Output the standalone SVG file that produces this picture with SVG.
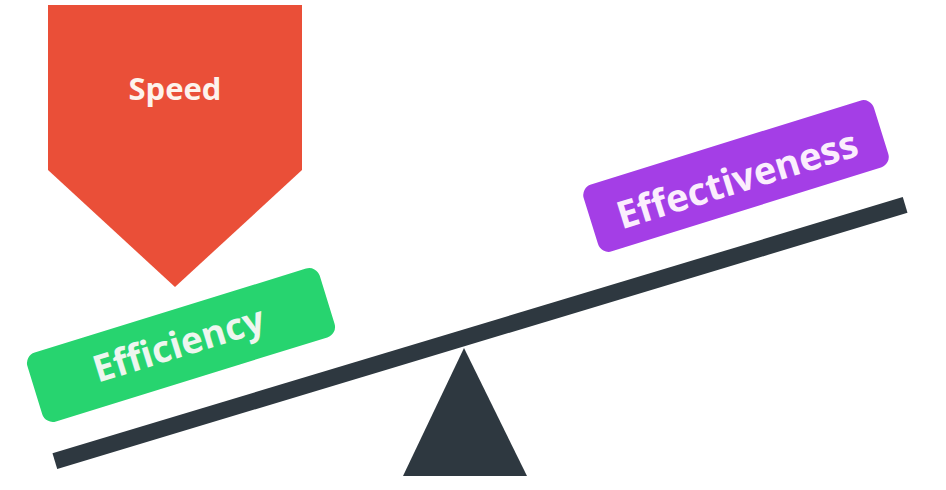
<svg xmlns="http://www.w3.org/2000/svg" width="946" height="490" viewBox="0 0 946 490">
<style>
.lbl{font-family:"Open Sans","Liberation Sans",sans-serif;font-weight:700;text-anchor:middle;dominant-baseline:central}
.dark{fill:#2e3840}
</style>
<rect width="946" height="490" fill="#ffffff"/>
<g id="speed">
<polygon points="48,5 302,5 302,170 175,287 48,170" fill="#ea4f38"/>
<text class="lbl" x="175" y="88" font-size="31" fill="#fdf3ec">Speed</text>
</g>
<g id="seesaw">
<g transform="translate(480,333) rotate(-16.76)">
<rect class="dark" x="-444" y="-8.2" width="888" height="16.4"/>
</g>
<polygon class="dark" points="464,348 527,476 403,476"/>
</g>
<g id="efficiency" transform="translate(181,345) rotate(-17.2)">
<rect x="-153" y="-36" width="306" height="72" rx="11" fill="#27d46f"/>
<text class="lbl" x="-2" y="-3" font-size="37" fill="#eef6ef">Efficiency</text>
</g>
<g id="effectiveness" transform="translate(736,176) rotate(-17.3)">
<rect x="-152" y="-35" width="304" height="70" rx="11" fill="#a43ee6"/>
<text class="lbl" x="0" y="2" font-size="38" fill="#fbeefd">Effectiveness</text>
</g>
</svg>
